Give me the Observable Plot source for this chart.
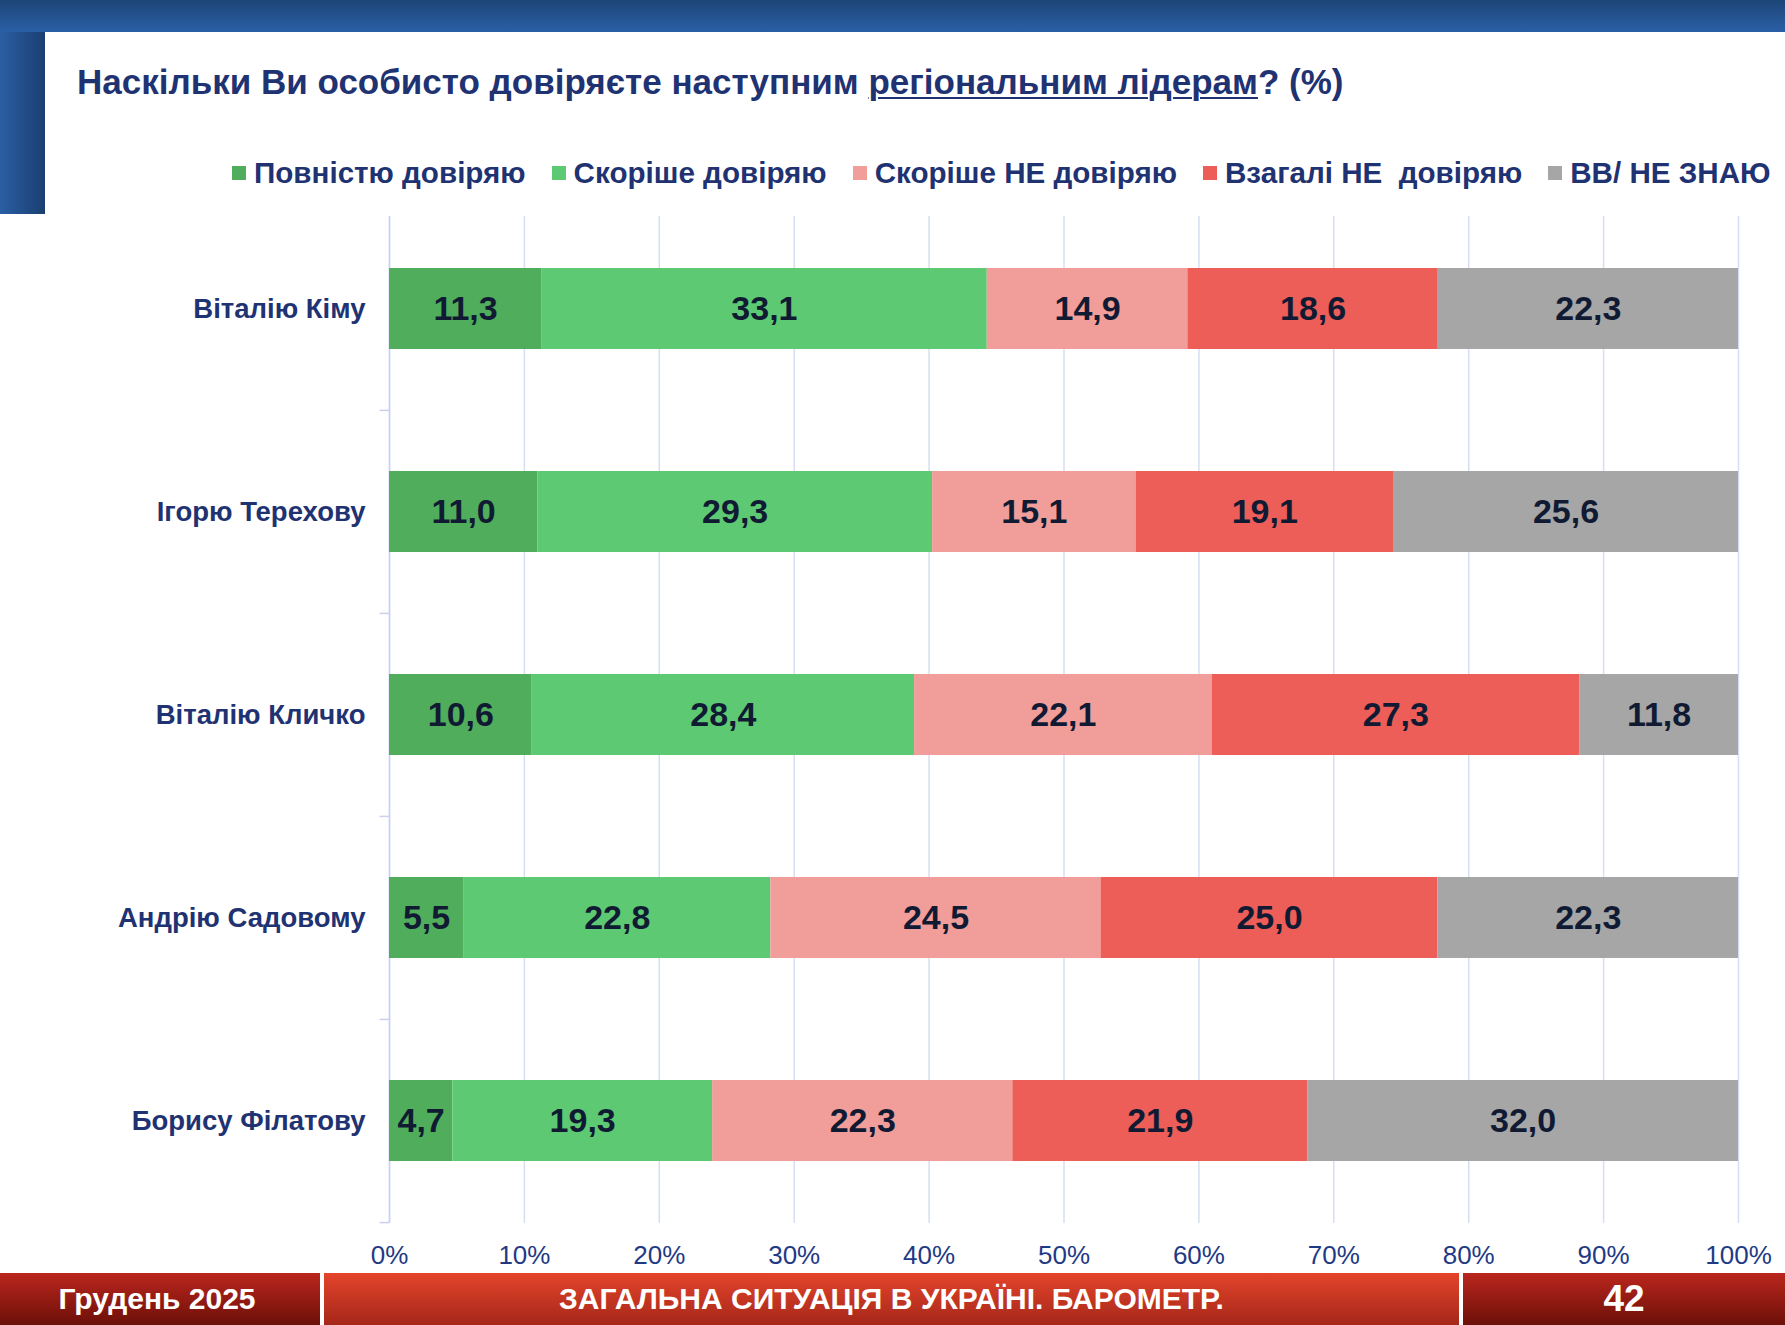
<!DOCTYPE html>
<html><head><meta charset="utf-8">
<script src="https://cdn.jsdelivr.net/npm/d3@7"></script>
<script src="https://cdn.jsdelivr.net/npm/@observablehq/plot@0.6"></script>
<style>
body{margin:0;background:#fff;font-family:"Liberation Sans",Arial,sans-serif;}
#page{position:relative;width:1785px;height:1325px;overflow:hidden;background:#fff;}
#topbar{position:absolute;left:0;top:0;width:1785px;height:32px;background:linear-gradient(#1d4678,#2a5fa6);}
#sidebar{position:absolute;left:0;top:32px;width:45px;height:182px;background:linear-gradient(90deg,#2a5ea4,#1b3f70);}
#title{position:absolute;left:77px;top:63px;font-size:35px;font-weight:bold;color:#1f3272;white-space:nowrap;line-height:38px;}
#title u{text-decoration-thickness:2px;text-underline-offset:3px;}
#legend{position:absolute;left:232px;top:156px;display:flex;align-items:center;font-size:29.6px;font-weight:bold;color:#1f3272;white-space:pre;line-height:34px;}
#legend .it{display:flex;align-items:center;margin-right:26px;}
#legend .sw{width:14px;height:14px;margin-right:8px;}
#chart{position:absolute;left:0;top:195px;}
.foot{position:absolute;top:1273px;height:52px;color:#fff;font-weight:bold;display:flex;align-items:center;justify-content:center;white-space:nowrap;}
#f1{left:0;width:314px;background:linear-gradient(#bb261d,#6c1009);font-size:30px;}
#f2{left:324px;width:1135px;background:linear-gradient(#e4442a,#a5271a);font-size:30px;}
#f3{left:1463px;width:322px;background:linear-gradient(#bb261d,#6c1009);font-size:37px;}
#f0{position:absolute;top:1273px;left:0;width:320px;height:52px;background:linear-gradient(#bb261d,#6c1009);}
</style></head>
<body>
<div id="page">
  <div id="topbar"></div>
  <div id="sidebar"></div>
  <div id="title">Наскільки Ви особисто довіряєте наступним <u>регіональним лідерам</u>? (%)</div>
  <div id="legend"></div>
  <div id="chart"></div>
  <div id="f0"></div>
  <div class="foot" id="f1">Грудень 2025</div>
  <div class="foot" id="f2">ЗАГАЛЬНА СИТУАЦІЯ В УКРАЇНІ. БАРОМЕТР.</div>
  <div class="foot" id="f3">42</div>
</div>
<script>
const leaders = ["Віталію Кіму", "Ігорю Терехову", "Віталію Кличко", "Андрію Садовому", "Борису Філатову"];
const seriesNames = ["Повністю довіряю", "Скоріше довіряю", "Скоріше НЕ довіряю", "Взагалі НЕ  довіряю", "ВВ/ НЕ ЗНАЮ"];
const seriesColors = ["#4fad5b", "#5dc972", "#f19e9a", "#ec5e57", "#a6a6a6"];
const fullyTrust   = [11.3, 11.0, 10.6, 5.5, 4.7];
const ratherTrust  = [33.1, 29.3, 28.4, 22.8, 19.3];
const ratherNot    = [14.9, 15.1, 22.1, 24.5, 22.3];
const notAtAll     = [18.6, 19.1, 27.3, 25.0, 21.9];
const dontKnow     = [22.3, 25.6, 11.8, 22.3, 32.0];
const xTickLabels  = [0, 10, 20, 30, 40, 50, 60, 70, 80, 90, 100];

const seriesValues = [fullyTrust, ratherTrust, ratherNot, notAtAll, dontKnow];
const data = [];
leaders.forEach((leader, i) => {
  seriesNames.forEach((s, j) => data.push({leader, series: s, value: seriesValues[j][i]}));
});

// legend
const lg = document.getElementById("legend");
seriesNames.forEach((s, j) => {
  const it = document.createElement("div"); it.className = "it";
  const sw = document.createElement("div"); sw.className = "sw"; sw.style.background = seriesColors[j];
  const tx = document.createElement("span"); tx.textContent = s;
  it.appendChild(sw); it.appendChild(tx); lg.appendChild(it);
});

const fmt = v => v.toFixed(1).replace(".", ",");
const stackOpts = {offset: "normalize", order: seriesNames};
const xt = xTickLabels.map(t => t / 100);
const halfStep = (1075 - 47 - 12) / leaders.length / 2;

const chart = Plot.plot({
  width: 1785, height: 1075,
  marginLeft: 389, marginRight: 47, marginTop: 12, marginBottom: 47,
  style: {fontFamily: "Liberation Sans, Arial, sans-serif", background: "transparent", overflow: "visible"},
  x: {domain: [0, 1], label: null},
  y: {domain: leaders, paddingInner: 0.6, paddingOuter: 0.3, label: null},
  color: {domain: seriesNames, range: seriesColors},
  marks: [
    Plot.ruleX(xt, {stroke: "#d6def1", strokeWidth: 1.5, insetTop: 9}),
    Plot.ruleX([0], {stroke: "#c8d2ec", strokeWidth: 1.5, insetTop: 9}),
    Plot.ruleY(leaders.slice(1), {y: d => d, x1: -0.007, x2: 0, dy: -halfStep, stroke: "#c8d2ec", strokeWidth: 1.5, clip: false}),
    Plot.ruleY(leaders.slice(-1), {y: d => d, x1: -0.007, x2: 0, dy: halfStep, stroke: "#c8d2ec", strokeWidth: 1.5, clip: false}),
    Plot.barX(data, Plot.stackX(stackOpts, {x: "value", y: "leader", fill: "series"})),
    Plot.text(data, Plot.stackX(stackOpts, {x: "value", y: "leader", z: "series", text: d => fmt(d.value), fontSize: 34, fontWeight: "bold", fill: "#111a33"})),
    Plot.axisX({ticks: xt, tickFormat: d => Math.round(d * 100) + "%", tickSize: 0, tickPadding: 22, fontSize: 26, color: "#1f3a85", label: null}),
    Plot.axisY({tickSize: 0, tickPadding: 24, fontSize: 27.5, fontWeight: "bold", color: "#1f3272", label: null})
  ]
});
document.getElementById("chart").appendChild(chart);
</script>
</body></html>
